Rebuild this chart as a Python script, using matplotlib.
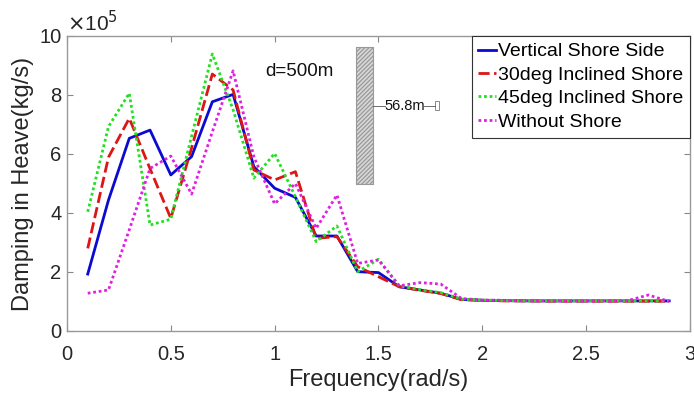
import matplotlib
matplotlib.use("Agg")
import matplotlib.pyplot as plt
from matplotlib.patches import Rectangle

plt.rcParams['font.family'] = ['Liberation Sans', 'DejaVu Sans']
plt.rcParams['hatch.color'] = '#8c8c8c'
plt.rcParams['hatch.linewidth'] = 0.9

freq = [0.1, 0.2, 0.3, 0.4, 0.5, 0.6, 0.7, 0.8, 0.9, 1.0,
        1.1, 1.2, 1.3, 1.4, 1.5, 1.6, 1.7, 1.8, 1.9, 2.0,
        2.1, 2.2, 2.3, 2.4, 2.5, 2.6, 2.7, 2.8, 2.9]

vertical = [1.93, 4.44, 6.53, 6.81, 5.29, 5.91, 7.77, 8.02, 5.57, 4.84,
            4.53, 3.22, 3.22, 2.01, 1.98, 1.50, 1.39, 1.28, 1.07, 1.04,
            1.03, 1.02, 1.02, 1.02, 1.02, 1.02, 1.02, 1.02, 1.02]
incl30 = [2.80, 5.89, 7.21, 5.50, 3.82, 6.20, 8.71, 8.17, 5.46, 5.12,
          5.40, 3.14, 3.20, 2.18, 1.84, 1.50, 1.38, 1.27, 1.06, 1.04,
          1.02, 1.02, 1.01, 1.01, 1.01, 1.01, 1.01, 1.01, 1.01]
incl45 = [4.04, 6.93, 8.06, 3.59, 3.79, 6.60, 9.39, 7.50, 5.18, 6.02,
          4.55, 3.03, 3.56, 2.01, 2.43, 1.53, 1.40, 1.30, 1.08, 1.05,
          1.03, 1.02, 1.02, 1.02, 1.02, 1.02, 1.02, 1.02, 1.02]
without = [1.28, 1.39, 3.43, 5.51, 5.93, 4.64, 6.75, 8.82, 5.90, 4.31,
           5.00, 3.48, 4.61, 2.29, 2.41, 1.53, 1.64, 1.59, 1.10, 1.05,
           1.04, 1.03, 1.02, 1.02, 1.02, 1.02, 1.03, 1.22, 1.00]

labels = ["Vertical Shore Side", "30deg Inclined Shore",
          "45deg Inclined Shore", "Without Shore"]
xticks = [0, 0.5, 1, 1.5, 2, 2.5, 3]
xticklabels = ["0", "0.5", "1", "1.5", "2", "2.5", "3"]
yticks = [0, 2, 4, 6, 8, 10]

fig = plt.figure(figsize=(6.94, 3.93), dpi=100)
ax = fig.add_axes([0.0965, 0.1578, 0.8977, 0.7506])

lw = 2.0
ax.plot(freq, vertical, color='#0a0ad0', lw=lw, linestyle='-', label=labels[0])
ax.plot(freq, incl30, color='#dd1515', lw=lw, linestyle=(0, (4, 1.6)), label=labels[1])
ax.plot(freq, incl45, color='#22e022', lw=lw, linestyle=(0, (1, 1)), label=labels[2])
ax.plot(freq, without, color='#e020e0', lw=lw, linestyle=(0, (1, 1)), label=labels[3])

ax.set_xlim(0, 3)
ax.set_ylim(0, 10)
ax.set_xticks(xticks)
ax.set_xticklabels(xticklabels)
ax.set_yticks(yticks)
ax.tick_params(direction='in', top=True, right=True, labelsize=14.5,
               color='#888888', length=4, labelcolor='#262626')
ax.tick_params(axis='x', pad=10)
ax.tick_params(axis='y', pad=4)
for s in ax.spines.values():
    s.set_color('#999999')
    s.set_linewidth(1.0)

ax.set_xlabel("Frequency(rad/s)", fontsize=17, color='#262626', labelpad=3.5)
ax.set_ylabel("Damping in Heave(kg/s)", fontsize=17, color='#262626', labelpad=4)
ax.text(0.0, 1.003, r"$\times$10$^5$", transform=ax.transAxes, fontsize=15,
        color='#262626', ha='left', va='bottom')

ax.text(1.12, 8.8, "d=500m", fontsize=13.5, ha='center', va='center', color='#111111')
rect = Rectangle((1.39, 4.98), 0.086, 4.65, facecolor='#d8d8d8',
                 edgecolor='#999999', hatch='////////', lw=0.8)
ax.add_patch(rect)
ax.plot([1.476, 1.53], [7.63, 7.63], color='#555555', lw=0.6)
ax.text(1.53, 7.63, "56.8m", fontsize=10.5, ha='left', va='center', color='#111111')
ax.plot([1.72, 1.77], [7.63, 7.63], color='#555555', lw=0.6)
ax.add_patch(Rectangle((1.77, 7.48), 0.022, 0.3, facecolor='white',
                       edgecolor='#777777', lw=0.6))

leg = ax.legend(loc='upper right', fontsize=14, handlelength=0.9,
                handletextpad=0.1, borderaxespad=0.0, borderpad=0.35,
                labelspacing=0.3, fancybox=False, framealpha=1)
leg.get_frame().set_edgecolor('#333333')
leg.get_frame().set_linewidth(0.8)

fig.savefig("out.png", dpi=100)
